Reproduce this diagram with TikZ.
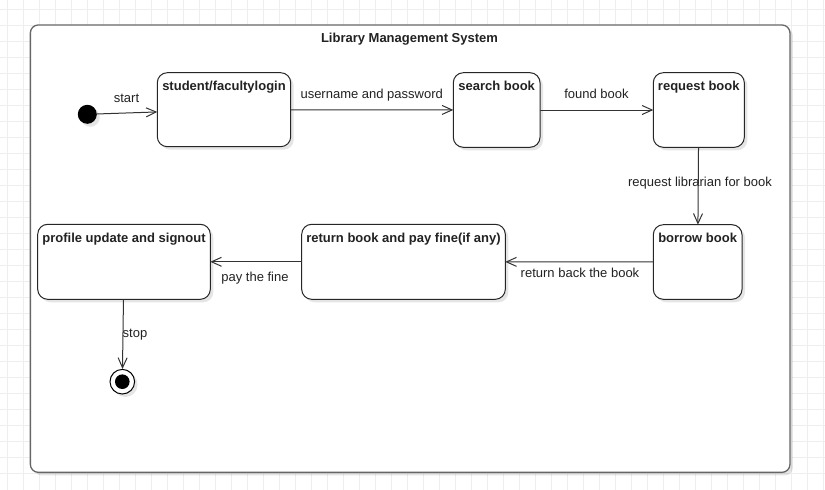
\documentclass[tikz,border=0pt]{standalone}
\usepackage{fontspec}
\setmainfont{Liberation Sans}
\usetikzlibrary{arrows.meta,shadows}
\definecolor{gridc}{HTML}{EEEEEE}
\definecolor{linec}{HTML}{333333}
\definecolor{framec}{HTML}{666666}
\definecolor{txtc}{HTML}{222222}
\begin{document}
\begin{tikzpicture}[x=1pt,y=-1pt,
  shade/.style={drop shadow={shadow xshift=3pt,shadow yshift=-3pt,opacity=0.1,fill=black}},
  statebox/.style={draw=black!85,line width=1pt,rounded corners=10pt,fill=white,shade,
    anchor=north west,inner sep=0pt,outer sep=0pt},
  stext/.style={anchor=base,inner sep=0pt,yshift=-18pt,text=txtc,
    font=\bfseries\fontsize{13}{15}\selectfont},
  lab/.style={anchor=base,inner sep=0pt,text=txtc,font=\fontsize{13}{15}\selectfont},
  trans/.style={draw=linec,line width=1pt,-{Straight Barb[length=10pt,width=9pt,line width=1pt]}}
]
\useasboundingbox (0,0) rectangle (825,490);
\fill[white] (0,0) rectangle (825,490);
\foreach \x in {7,23,...,823} \draw[gridc,line width=0.8pt] (\x,0) -- (\x,490);
\foreach \y in {9.3,25.3,...,489} \draw[gridc,line width=0.8pt] (0,\y) -- (825,\y);

% system frame
\node[draw=framec,line width=1.3pt,rounded corners=8pt,fill=white,shade,anchor=north west,
  inner sep=0pt,minimum width=759.6pt,minimum height=447.4pt] (sys) at (29.7,24.3) {};
\node[anchor=base,inner sep=0pt,text=txtc,font=\bfseries\fontsize{13}{15}\selectfont]
  (title) at (409.5,42.5) {Library Management System};

% states
\node[statebox,minimum width=133.4pt,minimum height=74pt,
  label={[stext]north:student/facultylogin}] (login) at (157.3,72.7) {};
\node[statebox,minimum width=86.7pt,minimum height=74.6pt,
  label={[stext]north:search book}] (search) at (453.3,72.7) {};
\node[statebox,minimum width=91pt,minimum height=74.6pt,
  label={[stext]north:request book}] (request) at (653.3,72.7) {};
\node[statebox,minimum width=88.7pt,minimum height=74.6pt,
  label={[stext]north:borrow book}] (borrow) at (653.3,224.7) {};
\node[statebox,minimum width=203.6pt,minimum height=75pt,
  label={[stext]north:return book and pay fine(if any)}] (return) at (301.7,224.3) {};
\node[statebox,minimum width=172.6pt,minimum height=75pt,
  label={[stext]north:profile update and signout}] (profile) at (37.7,224.3) {};

% pseudo states
\node[circle,fill=black,minimum size=19pt,inner sep=0pt,shade] (init) at (87.3,114.3) {};
\node[circle,draw=black,line width=1pt,fill=white,minimum size=24.6pt,inner sep=0pt,shade]
  (final) at (122.3,381.7) {};
\fill[black] (final.center) circle (7.3pt);

% transitions
\draw[trans] (init) -- (login);
\draw[trans] (login) -- (search);
\draw[trans] (search) -- (request);
\draw[trans] (request) -- (borrow);
\draw[trans] (borrow) -- (return);
\draw[trans] (return) -- (profile);
\draw[trans] (profile) -- (final);

% labels
\node[lab] (lstart) at (126.5,102.5) {start};
\node[lab] (luser) at (371.7,98.7) {username and password};
\node[lab] (lfound) at (596.5,98.7) {found book};
\node[lab] (lreq) at (700,186) {request librarian for book};
\node[lab] (lret) at (580,277) {return back the book};
\node[lab] (lpay) at (255,281) {pay the fine};
\node[lab] (lstop) at (135,337) {stop};
\end{tikzpicture}
\end{document}
